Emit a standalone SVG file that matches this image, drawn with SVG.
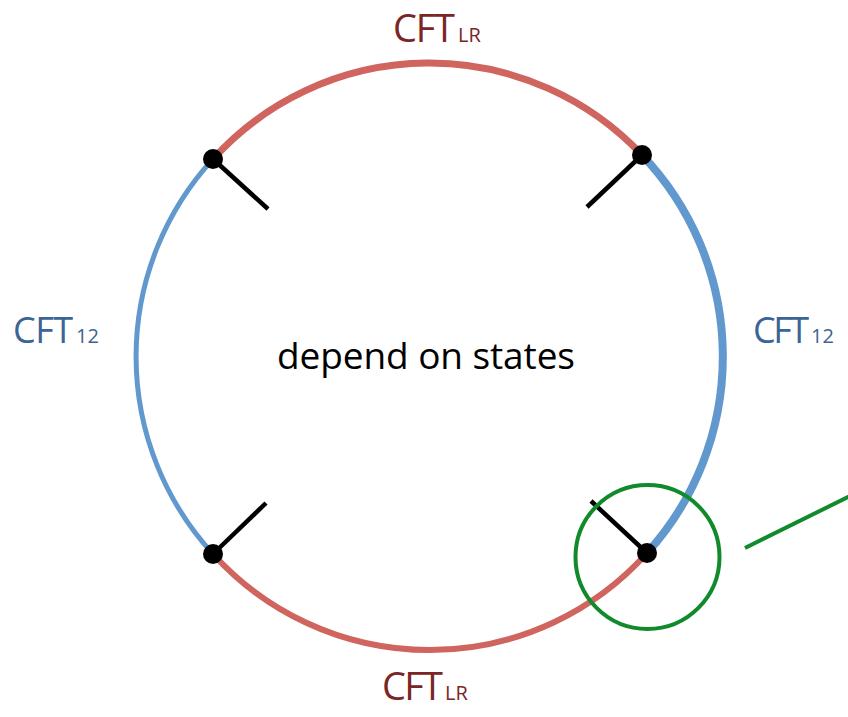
<svg xmlns="http://www.w3.org/2000/svg" width="848" height="717" viewBox="0 0 848 717">
  <style>
    .arc { fill: none; stroke-linecap: butt; }
    .red { stroke: #d0645e; }
    .blue { stroke: #6199cf; }
    .tick { stroke: #000; stroke-width: 4.5; stroke-linecap: butt; }
    .dot { fill: #000; }
    .lblR { font-family: "Open Sans", "Liberation Sans", sans-serif; fill: #7a2626; }
    .lblB { font-family: "Open Sans", "Liberation Sans", sans-serif; fill: #3c6494; }
    .sub { font-size: 20px; }
    .main { font-family: "Open Sans", "Liberation Sans", sans-serif; fill: #000; }
    .zoom { fill: none; stroke: #118a2c; stroke-width: 4; }
  </style>

  <!-- ring made of four arcs -->
  <g id="connectors">
    <path id="arc-top" class="arc red" stroke-width="7" d="M213,159 A292,292 0 0 1 642,155"/>
    <path id="arc-right" class="arc blue" stroke-width="8" d="M642,155 A292,292 0 0 1 647,553"/>
    <path id="arc-bottom" class="arc red" stroke-width="6" d="M647,553 A292,292 0 0 1 213,554"/>
    <path id="arc-left" class="arc blue" stroke-width="5" d="M213,554 A292,292 0 0 1 213,159"/>
    <line class="zoom" x1="745" y1="548" x2="852" y2="495"/>
  </g>

  <g id="junction-tl">
    <line class="tick" x1="213" y1="159" x2="268" y2="209"/>
    <circle class="dot" cx="213" cy="159" r="10"/>
  </g>
  <g id="junction-tr">
    <line class="tick" x1="642" y1="155" x2="587" y2="207"/>
    <circle class="dot" cx="642" cy="155" r="10"/>
  </g>
  <g id="junction-bl">
    <line class="tick" x1="213" y1="554" x2="266" y2="503"/>
    <circle class="dot" cx="213" cy="554" r="10"/>
  </g>
  <g id="junction-br">
    <line class="tick" x1="647" y1="553" x2="591" y2="501"/>
    <circle class="dot" cx="647" cy="553" r="10"/>
  </g>

  <g id="highlight">
    <circle class="zoom" cx="647.5" cy="557" r="72"/>
  </g>

  <g id="label-top">
    <text class="lblR" x="393" y="42" font-size="38" textLength="62">CFT</text>
    <text class="lblR sub" x="458" y="42">LR</text>
  </g>
  <g id="label-bottom">
    <text class="lblR" x="382" y="700" font-size="38" textLength="61">CFT</text>
    <text class="lblR sub" x="445" y="700">LR</text>
  </g>
  <g id="label-left">
    <text class="lblB" x="13" y="343" font-size="36" textLength="60">CFT</text>
    <text class="lblB sub" x="76" y="343">12</text>
  </g>
  <g id="label-right">
    <text class="lblB" x="753" y="343" font-size="36" textLength="56">CFT</text>
    <text class="lblB sub" x="811" y="343">12</text>
  </g>

  <g id="center-text">
    <text class="main" x="277" y="369" font-size="37" textLength="298">depend on states</text>
  </g>
</svg>
